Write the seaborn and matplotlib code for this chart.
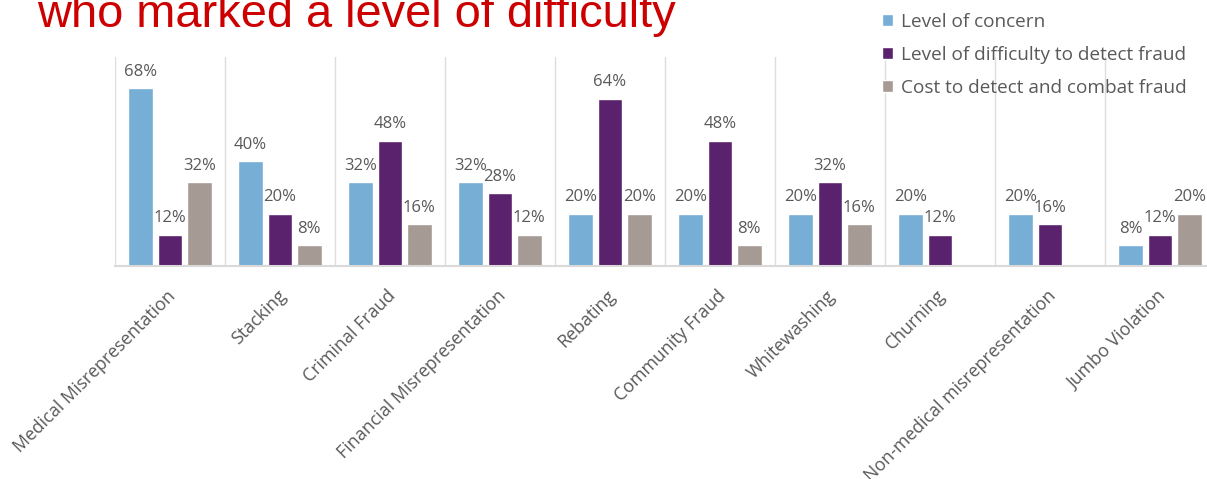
import numpy as np
import pandas as pd
import matplotlib
matplotlib.use("Agg")
import matplotlib.pyplot as plt
import matplotlib.transforms as mtransforms
import seaborn as sns

categories = ["Medical Misrepresentation", "Stacking", "Criminal Fraud",
              "Financial Misrepresentation", "Rebating", "Community Fraud",
              "Whitewashing", "Churning", "Non-medical misrepresentation",
              "Jumbo Violation"]
series_names = ["Level of concern", "Level of difficulty to detect fraud",
                "Cost to detect and combat fraud"]
concern = [68, 40, 32, 32, 20, 20, 20, 20, 20, 8]
difficulty = [12, 20, 48, 28, 64, 48, 32, 12, 16, 12]
cost = [32, 8, 16, 12, 20, 8, 16, None, None, 20]
colors = ["#76AED6", "#5A216C", "#A59A94"]
title_text = "who marked a level of difficulty"

rows = []
for name, vals in zip(series_names, [concern, difficulty, cost]):
    for cat, v in zip(categories, vals):
        if v is not None:
            rows.append({"category": cat, "series": name, "value": v})
df = pd.DataFrame(rows)

sns.set_theme(style="white")
font = "Open Sans"
plt.rcParams["font.family"] = [font, "DejaVu Sans"]
text_color = "#595959"

fig = plt.figure(figsize=(12.07, 4.79), dpi=100)
ax = fig.add_axes([115 / 1207, 1 - 266 / 479, 1100 / 1207, (266 - 57) / 479])

sns.barplot(data=df, x="category", y="value", hue="series",
            order=categories, hue_order=series_names, palette=colors,
            width=0.8, gap=0.15, saturation=1, ax=ax, legend=True,
            errorbar=None)

for cont in ax.containers:
    labels = [f"{v:.0f}%" for v in cont.datavalues]
    ax.bar_label(cont, labels=labels, padding=6, fontsize=12, color=text_color)

ax.set_xlim(-0.5, len(categories) - 0.5)
ax.set_ylim(0, 80)
ax.set_yticks([])
ax.set_xlabel("")
ax.set_ylabel("")
for s in ["top", "right", "left"]:
    ax.spines[s].set_visible(False)
ax.spines["bottom"].set_color("#D9D9D9")
ax.spines["bottom"].set_linewidth(1.5)
ax.set_xticks(np.arange(-0.5, len(categories), 1), minor=True)
ax.grid(which="minor", axis="x", color="#DDDDDD", lw=1)
ax.grid(which="major", visible=False)
ax.set_axisbelow(True)
ax.tick_params(axis="x", which="both", length=0, pad=0)
ax.set_xticks(range(len(categories)))
ax.set_xticklabels(categories, rotation=45, ha="right", va="center",
                   rotation_mode="anchor", fontsize=12.8, color=text_color)
offset = mtransforms.ScaledTranslation(3 / 100, -27 / 100, fig.dpi_scale_trans)
for lbl in ax.get_xticklabels():
    lbl.set_transform(lbl.get_transform() + offset)

handles, labs = ax.get_legend_handles_labels()
ax.get_legend().remove()
fig.legend(handles, labs, loc="upper left", bbox_to_anchor=(874 / 1207, 1 - 5 / 479),
           frameon=False, fontsize=13.7, labelcolor=text_color,
           handlelength=0.6, handleheight=0.6, handletextpad=0.4,
           labelspacing=0.8, borderaxespad=0)

fig.text(37 / 1207, 1 - 27 / 479, title_text, color="#CC0000", fontsize=33.8,
         family=["Liberation Sans", "DejaVu Sans"], va="baseline", ha="left")

fig.savefig("out.png", dpi=100)
